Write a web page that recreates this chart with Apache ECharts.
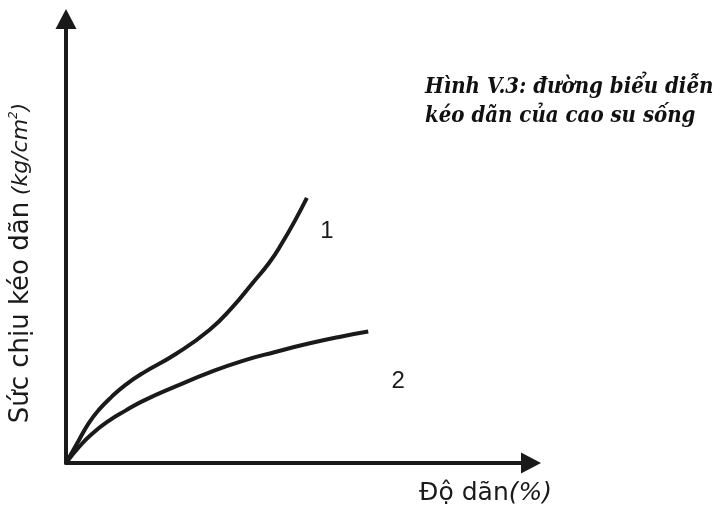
<!DOCTYPE html>
<html>
<head>
<meta charset="utf-8">
<script src="https://cdn.jsdelivr.net/npm/echarts@6/dist/echarts.min.js"></script>
<style>html,body{margin:0;padding:0;background:#fff;}#c{width:720px;height:512px;}</style>
</head>
<body>
<div id="c"></div>
<script>
const curve1X = [0, 2.8, 4.9, 7.0, 9.8, 12.8, 16.6, 23.7, 30.9, 35.8, 40.1, 43.7, 46.5, 49.3, 51.8];
const curve1Y = [0, 5.2, 9.0, 11.9, 14.9, 17.6, 20.3, 24.6, 30.0, 35.1, 40.5, 45.1, 49.6, 54.7, 59.7];
const curve2X = [0, 2.8, 5.5, 9.2, 12.8, 16.6, 23.7, 30.9, 38.0, 45.0, 52.2, 59.3, 65.0];
const curve2Y = [0, 3.6, 6.5, 9.5, 11.8, 14.0, 17.3, 20.4, 23.0, 25.0, 26.9, 28.5, 29.6];
const curveNames = ['1', '2'];
const xName = 'Độ dãn';
const xUnit = '(%)';
const yName = 'Sức chịu kéo dãn';
const yUnit = '(kg/cm';
const titleLines = ['Hình V.3: đường biểu diễn', 'kéo dãn của cao su sống'];

const pair = (xs, ys) => xs.map((x, i) => [x, ys[i]]);
const ink = '#1a1a1a';
const axisLine = {
  show: true,
  symbol: ['none', 'triangle'],
  symbolSize: [21, 20],
  lineStyle: { color: ink, width: 4 }
};
const sans = 'DejaVu Sans';
const chart = echarts.init(document.getElementById('c'));
chart.setOption({
  animation: false,
  backgroundColor: '#fff',
  title: {
    text: titleLines.join('\n'),
    left: 420, top: 68,
    textStyle: {
      fontFamily: 'DejaVu Serif Condensed', fontStyle: 'italic', fontWeight: 'bold',
      fontSize: 22, lineHeight: 29, color: '#111'
    }
  },
  grid: { left: 62, right: 189, top: 19, bottom: 49 },
  xAxis: {
    type: 'value', min: 0, max: 100,
    axisLine: axisLine,
    axisTick: { show: false }, axisLabel: { show: false }, splitLine: { show: false },
    name: '{a|' + xName + '}{b|' + xUnit + '}',
    nameLocation: 'end', nameGap: 21,
    nameTextStyle: {
      align: 'right', verticalAlign: 'top', padding: [18, 0, 0, 0],
      rich: {
        a: { fontFamily: sans, fontSize: 25, color: ink },
        b: { fontFamily: sans, fontStyle: 'italic', fontSize: 25, color: ink }
      }
    }
  },
  yAxis: {
    type: 'value', min: 0, max: 100,
    axisLine: axisLine,
    axisTick: { show: false }, axisLabel: { show: false }, splitLine: { show: false },
    name: '{a|' + yName + '}  {b|' + yUnit + '}{s|2}{b|)}',
    nameLocation: 'middle', nameRotate: 90, nameGap: 32,
    nameTextStyle: {
      padding: [0, 44, 0, 0],
      rich: {
        a: { fontFamily: sans, fontSize: 26, color: ink },
        b: { fontFamily: sans, fontStyle: 'italic', fontSize: 22, color: ink },
        s: { fontFamily: sans, fontStyle: 'italic', fontSize: 12, color: ink, verticalAlign: 'top', padding: [0, 0, 12, 0] }
      }
    }
  },
  series: [
    {
      type: 'line', smooth: true, symbol: 'none', data: pair(curve1X, curve1Y),
      lineStyle: { color: ink, width: 4 },
      endLabel: { show: true, formatter: curveNames[0], offset: [12, 33], align: 'center', verticalAlign: 'middle',
        fontFamily: 'Liberation Sans', fontSize: 24, color: ink }
    },
    {
      type: 'line', smooth: true, symbol: 'none', data: pair(curve2X, curve2Y),
      lineStyle: { color: ink, width: 4 },
      endLabel: { show: true, formatter: curveNames[1], offset: [22, 50], align: 'center', verticalAlign: 'middle',
        fontFamily: 'Liberation Sans', fontSize: 24, color: ink }
    }
  ]
});
</script>
</body>
</html>
